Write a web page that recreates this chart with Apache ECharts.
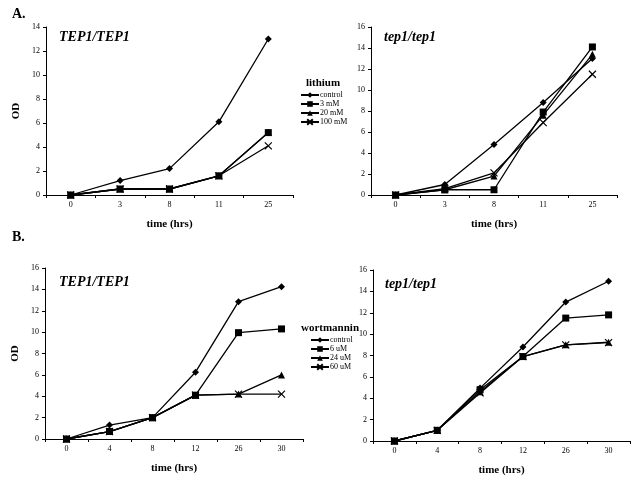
<!DOCTYPE html>
<html><head><meta charset="utf-8">
<script src="https://cdn.jsdelivr.net/npm/echarts@6/dist/echarts.min.js"></script>
<style>html,body{margin:0;padding:0;background:#fff}#c{width:640px;height:486px}</style>
</head><body><div id="c"></div>
<script>
var catsA = ['0','3','8','11','25'];
var catsB = ['0','4','8','12','26','30'];
var namesA = ['control','3 mM','20 mM','100 mM'];
var namesB = ['control','6 uM','24 uM','60 uM'];
// Panel A left (TEP1/TEP1, lithium)
var aL_control = [0,1.2,2.2,6.1,13.0];
var aL_3mM     = [0,0.5,0.5,1.6,5.2];
var aL_20mM    = [0,0.5,0.5,1.6,5.2];
var aL_100mM   = [0,0.5,0.5,1.6,4.1];
// Panel A right (tep1/tep1, lithium)
var aR_control = [0,1.0,4.8,8.8,13.0];
var aR_3mM     = [0,0.5,0.5,7.9,14.1];
var aR_20mM    = [0,0.5,1.8,7.6,13.4];
var aR_100mM   = [0,0.6,2.1,6.9,11.5];
// Panel B left (TEP1/TEP1, wortmannin)
var bL_control = [0,1.3,2.0,6.25,12.85,14.25];
var bL_6uM     = [0,0.7,2.0,4.1,9.95,10.3];
var bL_24uM    = [0,0.7,2.0,4.1,4.2,6.0];
var bL_60uM    = [0,0.7,2.0,4.1,4.2,4.2];
// Panel B right (tep1/tep1, wortmannin)
var bR_control = [0,1.0,4.95,8.8,13.0,14.95];
var bR_6uM     = [0,1.0,4.8,7.9,11.5,11.8];
var bR_24uM    = [0,1.0,4.6,7.9,9.0,9.25];
var bR_60uM    = [0,1.0,4.5,7.9,9.0,9.2];

var SERIF = 'Liberation Serif';
var xPath = 'path://M0,0L10,10M10,0L0,10';
var symbols = ['diamond','rect','triangle',xPath];
var symSizes = [7,7,7,7];

var grids = [
  {left:46, top:27, width:247, height:168},
  {left:371, top:27, width:246, height:168},
  {left:45, top:268, width:258, height:171},
  {left:373, top:270, width:257, height:171}
];
function xAx(i, cats){
  return {type:'category', gridIndex:i, data:cats, boundaryGap:true,
    axisLine:{lineStyle:{color:'#000', width:1}},
    axisTick:{show:true, length:3, lineStyle:{color:'#000'}},
    axisLabel:{color:'#000', fontFamily:SERIF, fontSize:8, margin:6},
    name:'time (hrs)', nameLocation:'middle', nameGap:24,
    nameTextStyle:{color:'#000', fontFamily:SERIF, fontWeight:'bold', fontSize:11}};
}
function yAx(i, max, named){
  return {type:'value', gridIndex:i, min:0, max:max, interval:2,
    splitLine:{show:false},
    axisLine:{show:true, lineStyle:{color:'#000', width:1}},
    axisTick:{show:true, length:3, lineStyle:{color:'#000'}},
    axisLabel:{color:'#000', fontFamily:SERIF, fontSize:8, margin:6},
    name: named ? 'OD' : '', nameLocation:'middle', nameGap:24, nameRotate:90,
    nameTextStyle:{color:'#000', fontFamily:SERIF, fontWeight:'bold', fontSize:11}};
}
var panels = [
  {names:namesA, data:[aL_control,aL_3mM,aL_20mM,aL_100mM]},
  {names:namesA, data:[aR_control,aR_3mM,aR_20mM,aR_100mM]},
  {names:namesB, data:[bL_control,bL_6uM,bL_24uM,bL_60uM]},
  {names:namesB, data:[bR_control,bR_6uM,bR_24uM,bR_60uM]}
];
var series = [];
panels.forEach(function(p, gi){
  p.data.forEach(function(d, k){
    series.push({type:'line', name:p.names[k], xAxisIndex:gi, yAxisIndex:gi, data:d,
      symbol:symbols[k], symbolSize:symSizes[k], showAllSymbol:true,
      lineStyle:{color:'#000', width:1.3},
      itemStyle:{color:'#000', borderColor:'#000', borderWidth: k===3 ? 1.2 : 0},
      emphasis:{disabled:true}, animation:false, z: 10-k});
  });
});
var legendCommon = {orient:'vertical', itemWidth:18, itemHeight:7, itemGap:1,
  textStyle:{color:'#000', fontFamily:SERIF, fontSize:8, lineHeight:8, padding:[0,0,0,-4]},
  inactiveColor:'#000', selectedMode:false, padding:0};
var option = {
  backgroundColor:'#fff',
  animation:false,
  grid:grids,
  xAxis:[xAx(0,catsA),xAx(1,catsA),xAx(2,catsB),xAx(3,catsB)],
  yAxis:[yAx(0,14,true),yAx(1,16,false),yAx(2,16,true),yAx(3,16,false)],
  legend:[
    Object.assign({data:namesA, left:300, top:91}, legendCommon),
    Object.assign({data:namesB, left:310, top:336}, legendCommon)
  ],
  graphic:[
    {type:'text', left:12, top:7, style:{text:'A.', font:'bold 14px "Liberation Serif"', fill:'#000'}},
    {type:'text', left:12, top:230, style:{text:'B.', font:'bold 14px "Liberation Serif"', fill:'#000'}},
    {type:'text', left:59, top:30, style:{text:'TEP1/TEP1', font:'italic bold 14px "Liberation Serif"', fill:'#000'}},
    {type:'text', left:384, top:30, style:{text:'tep1/tep1', font:'italic bold 14px "Liberation Serif"', fill:'#000'}},
    {type:'text', left:59, top:275, style:{text:'TEP1/TEP1', font:'italic bold 14px "Liberation Serif"', fill:'#000'}},
    {type:'text', left:385, top:277, style:{text:'tep1/tep1', font:'italic bold 14px "Liberation Serif"', fill:'#000'}},
    {type:'text', x:323, y:83, style:{text:'lithium', font:'bold 11px "Liberation Serif"', fill:'#000', align:'center', verticalAlign:'middle'}},
    {type:'text', x:330, y:328, style:{text:'wortmannin', font:'bold 11px "Liberation Serif"', fill:'#000', align:'center', verticalAlign:'middle'}}
  ],
  series:series
};
var chart = echarts.init(document.getElementById('c'), null, {renderer:'canvas'});
chart.setOption(option);
</script></body></html>
